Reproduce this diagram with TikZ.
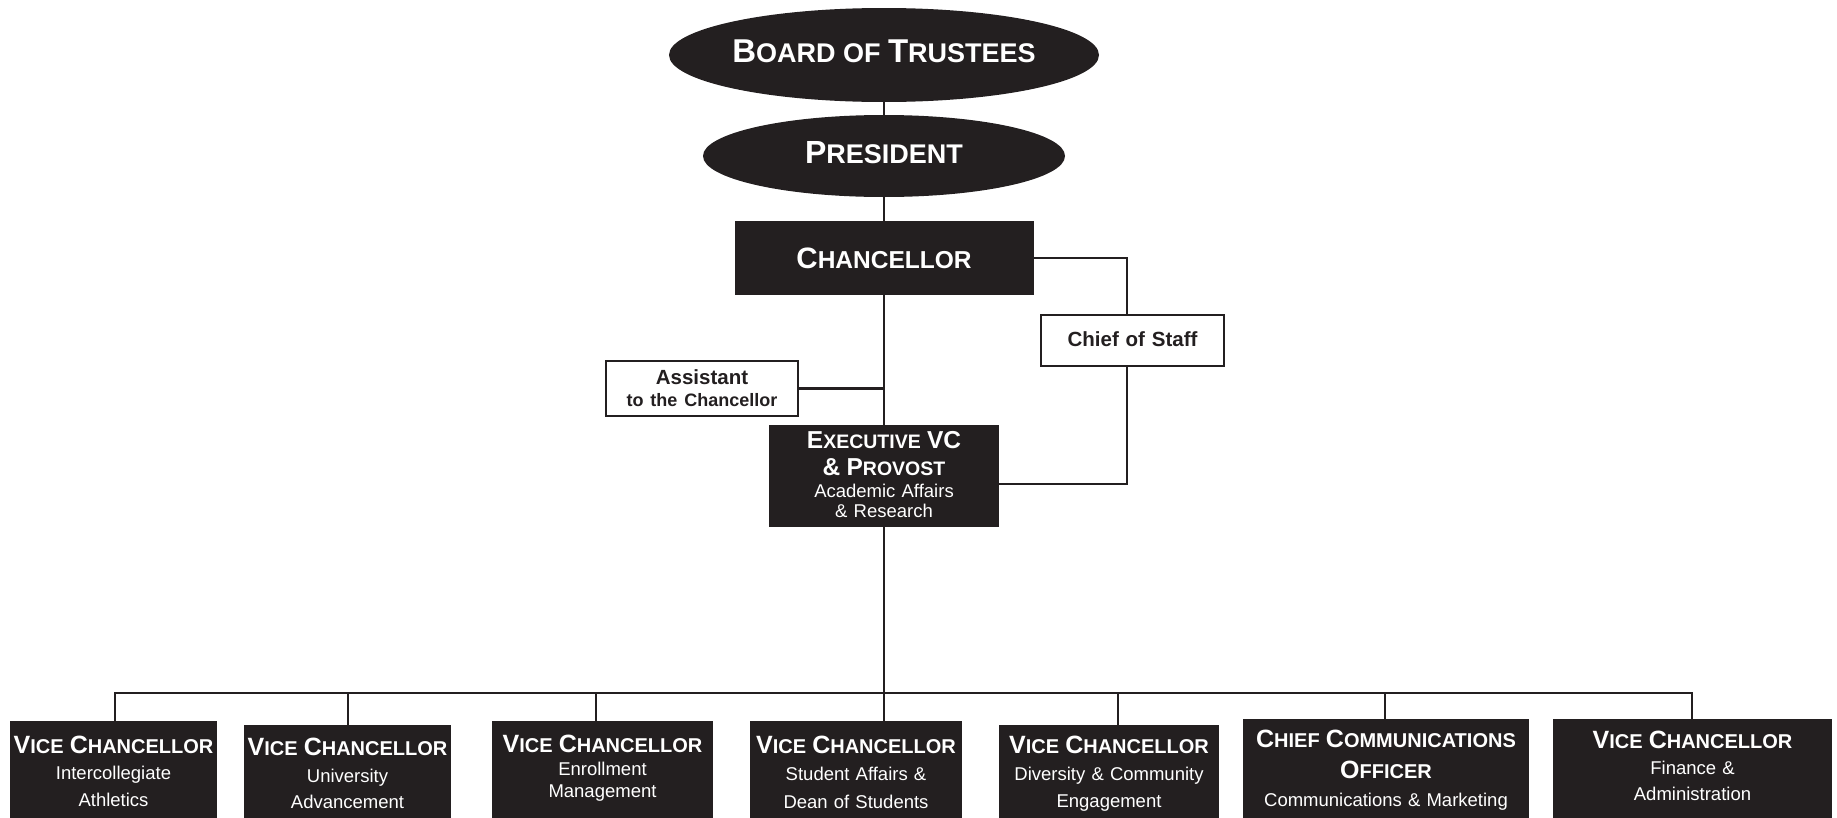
\documentclass[tikz,border=0pt]{standalone}
\usepackage{fontspec}
\setmainfont{Liberation Sans}
\usetikzlibrary{shapes.geometric}
\definecolor{ink}{HTML}{231F20}
\newcommand\fs[1]{\fontsize{#1}{0}\selectfont}
\newcommand\sy[2]{\rule[-#2pt]{0pt}{\dimexpr #1pt+#2pt\relax}}
\newcommand\VC{{\bfseries\fs{20}{\fs{25}V}ICE {\fs{25}C}HANCELLOR}}
\begin{document}
\begin{tikzpicture}[x=1pt,y=-1pt,
  every node/.style={inner sep=0pt, outer sep=0pt},
  oval/.style={ellipse, fill=ink, text=white, font=\bfseries},
  dark/.style={rectangle, fill=ink, text=white, align=center, anchor=north,
    execute at begin node={\baselineskip=0pt\lineskip=0pt\lineskiplimit=0pt},
    font=\fs{18.5}},
  light/.style={rectangle, fill=white, draw=ink, line width=2pt, text=ink,
    align=center, anchor=north,
    execute at begin node={\baselineskip=0pt\lineskip=0pt\lineskiplimit=0pt},
    font={\bfseries\fs{20.5}}},
  wire/.style={draw=ink, line width=2.2pt}]
\useasboundingbox (0,0) rectangle (1837,817);

\node[oval, minimum width=430pt, minimum height=94pt, text height=24pt, text depth=10pt]
  (board) at (884,55) {\fs{27}{\fs{33}B}OARD OF {\fs{33}T}RUSTEES};
\node[oval, minimum width=362pt, minimum height=82pt, text height=22pt, text depth=8pt]
  (pres) at (884,156) {\fs{27}{\fs{32}P}RESIDENT};
\node[dark, text width=299pt, font={\bfseries\fs{24.5}}] (chan) at (884,221)
  {\sy{47}{27}{\fs{29.5}C}HANCELLOR};
\node[light, text width=183pt] (chief) at (1132.5,315) {\sy{31}{20}Chief of Staff};
\node[light, text width=192pt] (asst) at (702,361)
  {\sy{23}{5}Assistant\\\sy{17}{10}{\fs{18}to the Chancellor}};
\node[dark, text width=230pt] (exec) at (884,425)
  {\sy{23}{6}{\bfseries\fs{19.5}{\fs{24.5}E}XECUTIVE {\fs{24.5}VC}}\\
   \sy{21}{6}{\bfseries\fs{19.5}{\fs{24.5}\& P}ROVOST}\\
   \sy{16}{6}Academic Affairs\\
   \sy{14}{10}\& Research};

\node[dark, text width=207pt] (b1) at (113.5,721)
  {\sy{32}{6}\VC\\\sy{20}{6}Intercollegiate\\\sy{21}{40}Athletics};
\node[dark, text width=207pt] (b2) at (347.5,725)
  {\sy{30}{6}\VC\\\sy{21}{6}University\\\sy{20}{40}Advancement};
\node[dark, text width=221pt] (b3) at (602.5,721)
  {\sy{31}{6}\VC\\\sy{17}{6}Enrollment\\\sy{16}{40}Management};
\node[dark, text width=212pt] (b4) at (856,721)
  {\sy{32}{6}\VC\\\sy{21}{6}Student Affairs \&\\\sy{22}{40}Dean of Students};
\node[dark, text width=220pt] (b5) at (1109,725)
  {\sy{28}{6}\VC\\\sy{21}{6}Diversity \& Community\\\sy{21}{40}Engagement};
\node[dark, text width=286pt] (b6) at (1386,719)
  {\sy{28}{6}{\bfseries\fs{20}{\fs{25}C}HIEF {\fs{25}C}OMMUNICATIONS}\\
   \sy{25}{6}{\bfseries\fs{20}{\fs{25}O}FFICER}\\
   \sy{22}{40}Communications \& Marketing};
\node[dark, text width=279pt] (b7) at (1692.5,719)
  {\sy{29}{6}\VC\\\sy{20}{6}Finance \&\\\sy{20}{40}Administration};

\coordinate (d1) at (115,693);
\coordinate (d2) at (348,693);
\coordinate (d3) at (596,693);
\coordinate (d4) at (884,693);
\coordinate (d5) at (1118,693);
\coordinate (d6) at (1385,693);
\coordinate (d7) at (1692,693);

\draw[wire] (board.south) -- (pres.north);
\draw[wire] (pres.south) -- (chan.north);
\draw[wire] (chan.south) -- (exec.north);
\draw[wire] (exec.south) -- (d4) -- (d4 |- b4.north);
\draw[wire] (d1 |- b1.north) -- (d1) -- (d7) -- (d7 |- b7.north);
\foreach \i in {2,3,5,6} { \draw[wire] (d\i) -- (d\i |- b\i.north); }
\draw[wire] (asst.east) -- (asst.east -| chan.south);
\draw[wire] (chan.east) -| ([xshift=-5.5pt]chief.north);
\draw[wire] ([xshift=-5.5pt]chief.south) |- ([yshift=-8pt]exec.east);
\end{tikzpicture}
\end{document}
